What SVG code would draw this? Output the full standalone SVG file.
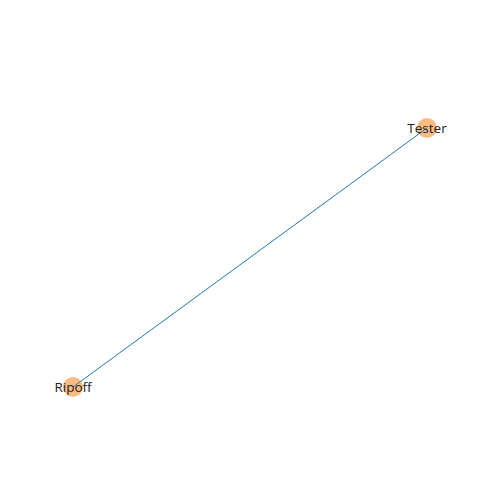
<svg xmlns="http://www.w3.org/2000/svg" width="500" height="500" viewBox="0 0 500 500">
<style>
.node{fill:#fdbb84}
.lbl{font-family:"Open Sans","DejaVu Sans",sans-serif;font-size:13.5px;fill:#222;text-anchor:middle;dominant-baseline:central}
.edge{stroke:#1f77b4;stroke-width:1}
</style>
<rect width="500" height="500" fill="#fff"/>
<g id="nodes-bg">
<g id="Tester"><circle class="node" cx="427" cy="128" r="10"/></g>
<g id="Ripoff"><circle class="node" cx="73" cy="387" r="10"/></g>
</g>
<g id="connectors"><line class="edge" x1="427" y1="128" x2="73" y2="387"/></g>
<g id="labels">
<text class="lbl" x="427" y="128">Tester</text>
<text class="lbl" x="73" y="387">Ripoff</text>
</g>
</svg>
